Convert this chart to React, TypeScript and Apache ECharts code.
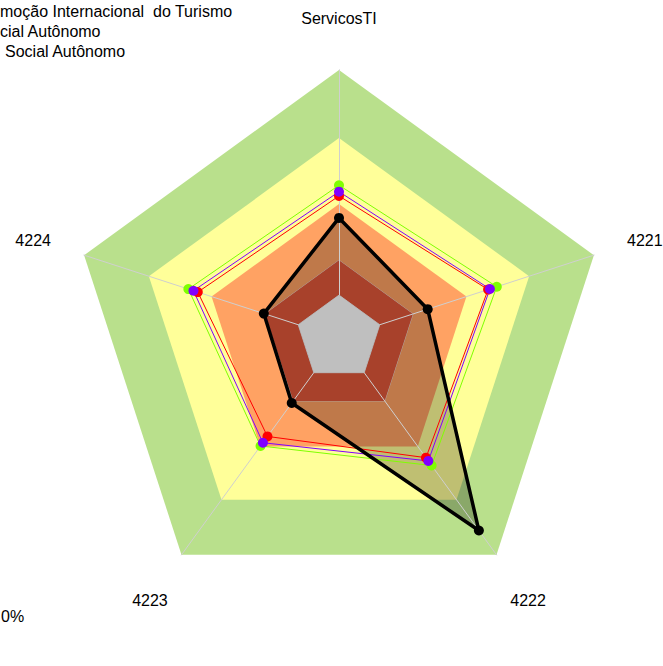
import React, { useEffect, useRef } from "react";
import * as echarts from "echarts";

const indicators = ["ServicosTI", "4224", "4223", "4222", "4221"];
const bandValues = [1.0, 0.746, 0.5, 0.29, 0.16];
const bandColors = ["#B9E08C", "#FFFF99", "#FFA263", "#A8412B", "#BFBFBF"];
const blackValues = [0.448, 0.295, 0.3, 0.888, 0.348];
const greenValues = [0.57, 0.591, 0.498, 0.588, 0.619];
const redValues = [0.53, 0.554, 0.454, 0.552, 0.585];
const purpleValues = [0.546, 0.571, 0.483, 0.567, 0.592];
const legendTexts = ["moção Internacional  do Turismo", "cial Autônomo", "Social Autônomo"];
const cornerText = "0%";

const CX = 339;
const CY = 338;
const R = 268;
const FONT = "'Liberation Sans', Arial, sans-serif";

export default function App() {
  const ref = useRef<HTMLDivElement>(null);
  useEffect(() => {
    document.body.style.margin = "0";
    const chart = echarts.init(ref.current!, null, { renderer: "svg" });
    const ind = indicators.map((name) => ({ name, min: 0, max: 1 }));
    const radarBase = {
      center: [CX, CY],
      radius: R,
      startAngle: 90,
      shape: "polygon",
      indicator: ind,
      splitNumber: 4,
      axisName: { show: false },
      splitLine: { show: false },
      splitArea: { show: false },
      axisTick: { show: false },
      axisLabel: { show: false },
    };
    const band = (v: number, color: string, i: number) => ({
      type: "radar",
      radarIndex: 0,
      z: i === 4 ? 3.5 : 2,
      silent: true,
      symbol: "none",
      lineStyle: {
        width: i >= 3 ? 1 : 0,
        color: i >= 3 ? "#B0A8A8" : color,
      },
      areaStyle: { color, opacity: 1 },
      data: [{ value: indicators.map(() => v) }],
    });
    const bandsOuter = [0, 1, 2].map((i) => band(bandValues[i], bandColors[i], i));
    const bandsInner = [3, 4].map((i) => band(bandValues[i], bandColors[i], i));
    const lineSeries = (vals: number[], color: string, width: number, z: number, size: number) => ({
      type: "radar",
      radarIndex: 0,
      z,
      silent: true,
      symbol: "circle",
      symbolSize: size,
      itemStyle: { color },
      lineStyle: { color, width },
      data: [{ value: vals }],
    });
    const labels = indicators.map((name, i) => {
      const th = ((90 + i * 72) * Math.PI) / 180;
      return {
        type: "text",
        x: CX + 1.2 * R * Math.cos(th),
        y: CY - 1.2 * R * Math.sin(th) + 2,
        style: {
          text: name,
          font: `16px ${FONT}`,
          fill: "#000",
          align: "center",
          verticalAlign: "middle",
        },
      };
    });
    const legendX = [0, 0, 5];
    const legends = legendTexts.map((t, i) => ({
      type: "text",
      x: legendX[i],
      y: 11 + i * 20,
      style: {
        text: t,
        font: `16px ${FONT}`,
        fill: "#000",
        align: "left",
        verticalAlign: "middle",
      },
    }));
    chart.setOption({
      animation: false,
      radar: [
        { ...radarBase, z: 0 },
        {
          ...radarBase,
          z: 3,
          axisLine: { show: true, lineStyle: { color: "#CFCFCF", width: 1 } },
        },
      ],
      series: [
        ...bandsOuter,
        {
          type: "radar",
          radarIndex: 0,
          z: 2,
          silent: true,
          symbol: "none",
          lineStyle: { width: 0, color: "rgba(0,0,0,0)" },
          areaStyle: { color: "rgba(0,0,0,0.25)", opacity: 1 },
          data: [{ value: blackValues }],
        },
        ...bandsInner,
        lineSeries(greenValues, "#7FFF00", 1, 4, 10),
        lineSeries(redValues, "#FF0000", 1, 4, 10),
        lineSeries(purpleValues, "#8000FF", 1, 4, 10),
        lineSeries(blackValues, "#000000", 3.5, 5, 10),
      ],
      graphic: [
        ...labels,
        ...legends,
        {
          type: "text",
          x: 1,
          y: 616,
          style: {
            text: cornerText,
            font: `16px ${FONT}`,
            fill: "#000",
            align: "left",
            verticalAlign: "middle",
          },
        },
      ],
    });
    return () => chart.dispose();
  }, []);
  return <div ref={ref} style={{ width: 663, height: 666 }} />;
}
